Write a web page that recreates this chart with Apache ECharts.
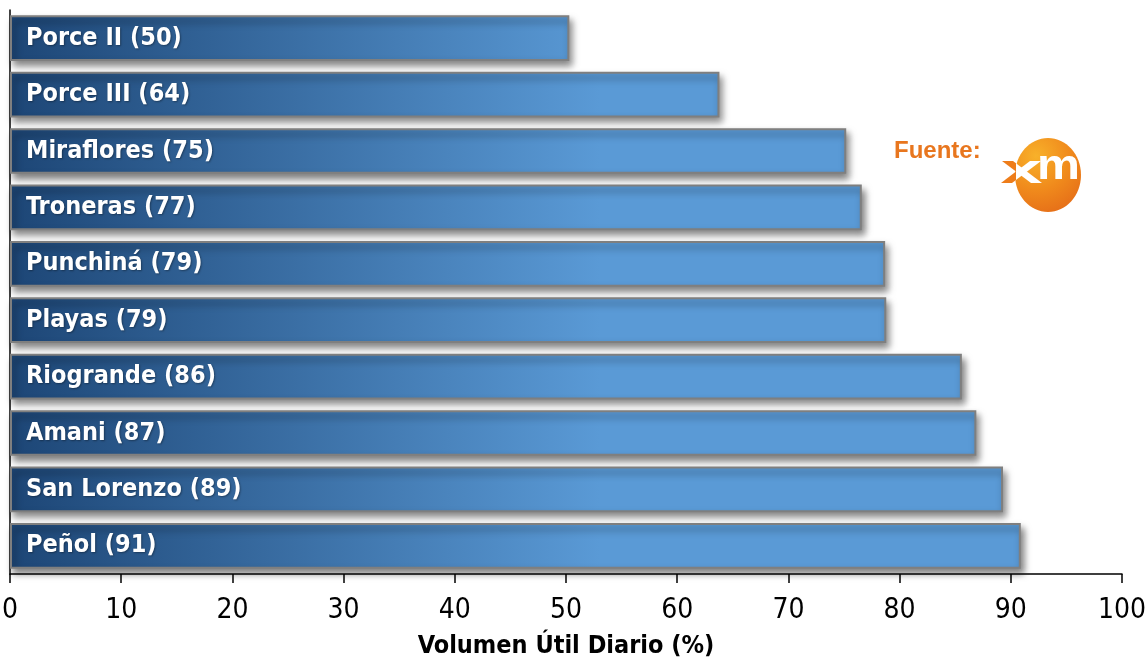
<!DOCTYPE html>
<html>
<head>
<meta charset="utf-8">
<script src="https://cdn.jsdelivr.net/npm/echarts@6/dist/echarts.min.js"></script>
<style>
html,body{margin:0;padding:0;background:#fff;}
#chart{width:1146px;height:663px;}
</style>
</head>
<body>
<div id="chart"></div>
<script>
// Data
const categories = ['Porce II','Porce III','Miraflores','Troneras','Punchiná','Playas','Riogrande','Amani','San Lorenzo','Peñol'];
const values = [50.3, 63.8, 75.2, 76.6, 78.7, 78.8, 85.6, 86.9, 89.3, 90.9];
const xTicks = [0,10,20,30,40,50,60,70,80,90,100];
const axisTitle = 'Volumen Útil Diario (%)';
const sourceText = 'Fuente:';

const FONT = "'DejaVu Sans Condensed','Liberation Sans Narrow',sans-serif";
const chart = echarts.init(document.getElementById('chart'));

const barFill = new echarts.graphic.LinearGradient(10, 0, 600, 0, [
  {offset: 0, color: '#1d4676'},
  {offset: 1, color: '#5a9ad6'}
], true);

const ORANGE = '#ee7d1a';

const option = {
  animation: false,
  grid: {left: 10, right: 24, top: 10, bottom: 89, containLabel: false, outerBoundsMode: 'none'},
  xAxis: {
    type: 'value', min: xTicks[0], max: xTicks[xTicks.length-1], interval: 10,
    splitLine: {show: false},
    axisLine: {show: true, lineStyle: {color: '#000', width: 1.5}},
    axisTick: {show: true, length: 9, lineStyle: {color: '#000', width: 1.5}},
    axisLabel: {color: '#000', fontFamily: FONT, fontSize: 28, margin: 23},
    name: axisTitle, nameLocation: 'middle', nameGap: 60,
    nameTextStyle: {color: '#000', fontFamily: FONT, fontSize: 25, fontWeight: 'bold'}
  },
  yAxis: {
    type: 'category', data: categories, inverse: true,
    axisLine: {show: true, lineStyle: {color: '#000', width: 1.5}},
    axisTick: {show: false}, axisLabel: {show: false}, splitLine: {show: false}
  },
  series: [{
    type: 'bar', data: values, barCategoryGap: '19%',
    itemStyle: {
      color: barFill, borderColor: '#7f7f7f', borderWidth: 2,
      shadowColor: 'rgba(0,0,0,0.5)', shadowBlur: 7, shadowOffsetX: 3, shadowOffsetY: 5
    },
    label: {
      show: true, position: 'insideLeft', distance: 16,
      formatter: p => p.name + ' (' + Math.round(p.value) + ')',
      color: '#fff', fontFamily: FONT, fontSize: 25, fontWeight: 'bold',
      textShadowColor: 'rgba(0,0,0,0.35)', textShadowBlur: 2, textShadowOffsetX: 1, textShadowOffsetY: 1
    }
  }],
  graphic: [
    {type: 'text', left: 894, top: 139, z: 10, style: {text: sourceText, fill: '#e8761e', font: "bold 24px 'Liberation Sans',Arial,sans-serif"}},
    {type: 'ellipse', z: 10, shape: {cx: 1048, cy: 175, rx: 33, ry: 37},
      style: {fill: new echarts.graphic.RadialGradient(1036, 156, 62, [
        {offset: 0, color: '#f8b12a'}, {offset: 0.55, color: '#f08a1c'}, {offset: 1, color: '#e56d18'}
      ], true)}},
    // white x strokes (inside the circle)
    {type: 'polygon', z: 11, shape: {points: [[1002,161],[1013,161],[1042,183],[1031,183]]}, style: {fill: '#fff'}},
    {type: 'polygon', z: 11, shape: {points: [[1001,183],[1012,183],[1041,161],[1030,161]]}, style: {fill: '#fff'}},
    // orange arms of the x outside the circle
    {type: 'polygon', z: 12, shape: {points: [[1002,161],[1013,161],[1016,163.3],[1016,171.6]]}, style: {fill: ORANGE}},
    {type: 'polygon', z: 12, shape: {points: [[1001,183],[1012,183],[1016,180],[1016,171.6]]}, style: {fill: ORANGE}},
    // m
    {type: 'text', z: 12, x: 1037, y: 146, scaleX: 1.15, style: {text: 'm', fill: '#fff', font: "bold 42px 'Liberation Sans',Arial,sans-serif"}}
  ]
};
chart.setOption(option);
</script>
</body>
</html>
